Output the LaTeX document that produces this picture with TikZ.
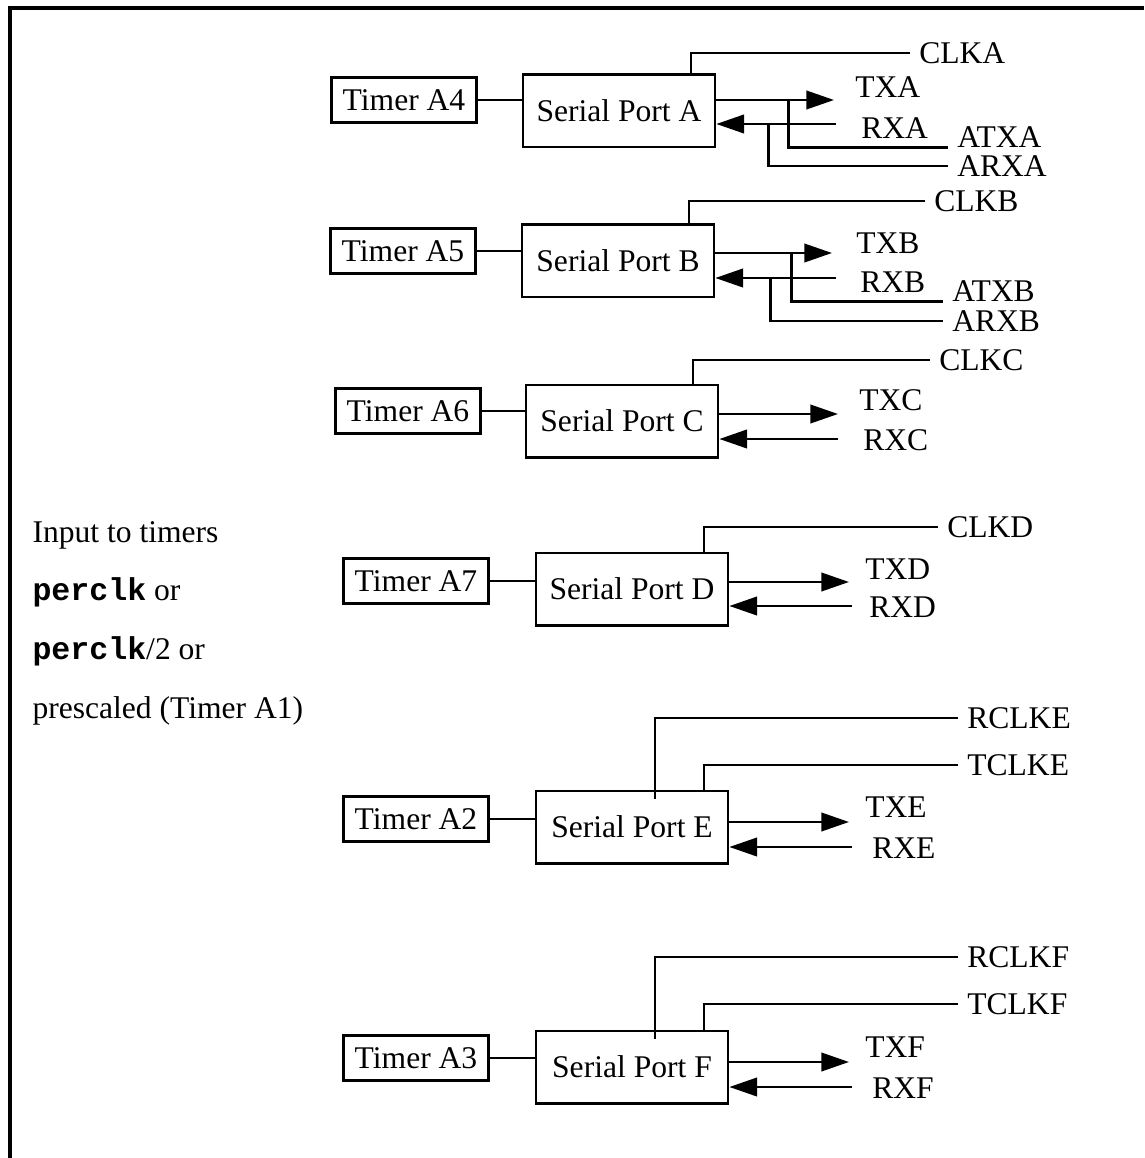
\documentclass[tikz,border=0pt]{standalone}
\usepackage{fontspec}
\setmainfont{Liberation Serif}
\setmonofont{Liberation Mono}
\usetikzlibrary{arrows.meta,calc}
\newcommand{\pclk}{\texttt{\textbf{perclk}}}

\begin{document}
\begin{tikzpicture}[
    x=0.38pt, y=-0.38pt,
    font=\fontsize{12}{14}\selectfont,
    tmr/.style={rectangle, draw, line width=1pt,
        minimum width=55pt, minimum height=17pt, inner sep=0pt},
    sport/.style={rectangle, draw, line width=1pt,
        minimum width=73pt, minimum height=27.5pt, inner sep=0pt},
    wire/.style={line width=0.95pt},
    thinwire/.style={line width=0.55pt},
    sig/.style={-{Triangle[length=10.5pt, width=7pt]}, line width=0.95pt},
    lbl/.style={anchor=west},
    note/.style={anchor=base west, inner sep=0pt}
]
    \useasboundingbox (0,0) rectangle (1144,1158);
    \draw[line width=1.2pt] (10,1158) -- (10,8) -- (1144,8);

    % timer inputs
    \node[note] (in1) at (32,542) {Input to timers};
    \node[note] (in2) at (32,600) {\pclk{} or};
    \node[note] (in3) at (32,659) {\pclk/2 or};
    \node[note] (in4) at (32,718) {prescaled (Timer A1)};

    % port A
    \node[tmr] (tA4) at (404,100) {Timer A4};
    \node[sport] (spA) at (619,111) {Serial Port A};
    \node[lbl] (clkA) at (910,53) {CLKA};
    \node[lbl] (txA) at (846,87) {TXA};
    \node[lbl] (rxA) at (852,128) {RXA};
    \node[lbl] (atxA) at (948,137) {ATXA};
    \node[lbl] (arxA) at (948,166) {ARXA};
    \coordinate (txAend) at (834,100);
    \coordinate (rxAend) at (836,124);
    \draw[wire] (tA4.east) -- (tA4.east -| spA.west);
    \draw[wire] ($(spA.north)+(72,0)$) |- (clkA.west);
    \draw[sig] (spA.east |- txAend) -- (txAend);
    \draw[sig] (rxAend) -- (spA.east |- rxAend);
    \draw[wire] ($(spA.east |- txAend)+(72,0)$) |- ([yshift=-4pt]atxA.west);
    \draw[wire] ($(spA.east |- rxAend)+(52,0)$) |- (arxA.west);

    % port B
    \node[tmr] (tA5) at (403,251) {Timer A5};
    \node[sport] (spB) at (618,261) {Serial Port B};
    \node[lbl] (clkB) at (925,201) {CLKB};
    \node[lbl] (txB) at (847,243) {TXB};
    \node[lbl] (rxB) at (851,282) {RXB};
    \node[lbl] (atxB) at (943,291) {ATXB};
    \node[lbl] (arxB) at (943,321) {ARXB};
    \coordinate (txBend) at (832,253);
    \coordinate (rxBend) at (836,278);
    \draw[wire] (tA5.east) -- (tA5.east -| spB.west);
    \draw[thinwire] ($(spB.north)+(71,0)$) |- (clkB.west);
    \draw[sig] (spB.east |- txBend) -- (txBend);
    \draw[sig] (rxBend) -- (spB.east |- rxBend);
    \draw[wire] ($(spB.east |- txBend)+(76,0)$) |- ([yshift=-4pt]atxB.west);
    \draw[wire] ($(spB.east |- rxBend)+(55,0)$) |- (arxB.west);

    % port C
    \node[tmr] (tA6) at (408,411) {Timer A6};
    \node[sport] (spC) at (622,421) {Serial Port C};
    \node[lbl] (clkC) at (930,360) {CLKC};
    \node[lbl] (txC) at (850,400) {TXC};
    \node[lbl] (rxC) at (854,440) {RXC};
    \coordinate (txCend) at (838,414);
    \coordinate (rxCend) at (838,439);
    \draw[wire] (tA6.east) -- (tA6.east -| spC.west);
    \draw[thinwire] ($(spC.north)+(71,0)$) |- (clkC.west);
    \draw[sig] (spC.east |- txCend) -- (txCend);
    \draw[sig] (rxCend) -- (spC.east |- rxCend);

    % port D
    \node[tmr] (tA7) at (416,581) {Timer A7};
    \node[sport] (spD) at (632,589) {Serial Port D};
    \node[lbl] (clkD) at (938,527) {CLKD};
    \node[lbl] (txD) at (856,569) {TXD};
    \node[lbl] (rxD) at (860,607) {RXD};
    \coordinate (txDend) at (849,582);
    \coordinate (rxDend) at (852,606);
    \draw[wire] (tA7.east) -- (tA7.east -| spD.west);
    \draw[thinwire] ($(spD.north)+(72,0)$) |- (clkD.west);
    \draw[sig] (spD.east |- txDend) -- (txDend);
    \draw[sig] (rxDend) -- (spD.east |- rxDend);

    % port E
    \node[tmr] (tA2) at (416,819) {Timer A2};
    \node[sport] (spE) at (632,827) {Serial Port E};
    \node[lbl] (rclkE) at (958,718) {RCLKE};
    \node[lbl] (tclkE) at (958,765) {TCLKE};
    \node[lbl] (txE) at (856,807) {TXE};
    \node[lbl] (rxE) at (863,848) {RXE};
    \coordinate (txEend) at (849,822);
    \coordinate (rxEend) at (852,847);
    \draw[wire] (tA2.east) -- (tA2.east -| spE.west);
    \draw[wire] ($(spE.north)+(23,9)$) |- (rclkE.west);
    \draw[thinwire] ($(spE.north)+(72,0)$) |- (tclkE.west);
    \draw[sig] (spE.east |- txEend) -- (txEend);
    \draw[sig] (rxEend) -- (spE.east |- rxEend);

    % port F
    \node[tmr] (tA3) at (416,1058) {Timer A3};
    \node[sport] (spF) at (632,1067) {Serial Port F};
    \node[lbl] (rclkF) at (958,957) {RCLKF};
    \node[lbl] (tclkF) at (958,1004) {TCLKF};
    \node[lbl] (txF) at (856,1047) {TXF};
    \node[lbl] (rxF) at (863,1088) {RXF};
    \coordinate (txFend) at (849,1062);
    \coordinate (rxFend) at (852,1087);
    \draw[wire] (tA3.east) -- (tA3.east -| spF.west);
    \draw[wire] ($(spF.north)+(23,9)$) |- (rclkF.west);
    \draw[thinwire] ($(spF.north)+(72,0)$) |- (tclkF.west);
    \draw[sig] (spF.east |- txFend) -- (txFend);
    \draw[sig] (rxFend) -- (spF.east |- rxFend);
\end{tikzpicture}
\end{document}
